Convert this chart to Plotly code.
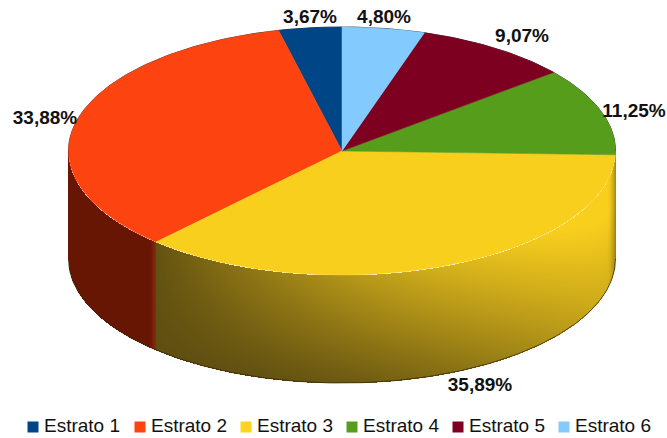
import numpy as np
import plotly.graph_objects as go

categories = ['Estrato 1', 'Estrato 2', 'Estrato 3', 'Estrato 4', 'Estrato 5', 'Estrato 6']
shares = [3.67, 33.88, 35.89, 11.25, 9.07, 4.80]
colors = ['#004586', '#fd4310', '#f9cf1e', '#579d1c', '#7e0021', '#83caff']
legend_colors = ['#004586', '#ff420e', '#ffd320', '#579d1c', '#7e0021', '#83caff']

# pixel geometry of the tilted pie
CX, CY, RX, RY, DEPTH = 342, 151, 273.5, 124, 108
label_xy = [(310, 18), (45, 119), (480, 386), (634, 112), (522, 37), (384, 18)]
legend_x = [33, 140, 246, 352, 458, 564]
legend_y = 427


def rim(a):
    t = np.radians(a)
    return CX + RX * np.sin(t), CY - RY * np.cos(t)


# printed shares only add up to 98.56, the slices fill the whole circle anyway
# slices run clockwise from 12 o'clock, last category first
sweep = np.array(shares[::-1]) / sum(shares) * 360
ends = np.cumsum(sweep)
starts = ends - sweep
spans = {len(shares) - 1 - i: (starts[i], ends[i]) for i in range(len(shares))}
# where Estrato 3 meets Estrato 2 on the front wall
boundary_x = float(rim(spans[2][1])[0])

# side wall, one cell per pixel
px = np.arange(CX - RX, CX + RX + 1)
py = np.arange(CY, CY + RY + DEPTH + 2)
gx, gy = np.meshgrid(px, py)
lower = CY + RY * np.sqrt(np.clip(1 - ((gx - CX) / RX) ** 2, 0, 1))
inside = (gy >= lower) & (gy <= lower + DEPTH)
d = np.clip((gy - lower) / DEPTH, 0, 1)
u = np.clip((gx - boundary_x) / (CX + RX - boundary_x), 0, 1)

s_top = 0.07 + 1.05 * u ** 0.85
s_bot = 0.05 + 0.75 * u ** 2.6
shade3 = (1 - d) * s_top + d * s_bot
shade3 = np.clip(shade3, 0, 1) * (1 - 0.5 * np.clip((gx - (CX + RX - 9)) / 9, 0, 1) ** 2)
shade3[~(inside & (gx >= boundary_x))] = np.nan

shade2 = np.clip((gx - (boundary_x - 6)) / 6, 0, 1)
shade2[~(inside & (gx < boundary_x))] = np.nan

fig = go.Figure()
fig.add_trace(go.Heatmap(x=px, y=py, z=shade3, zmin=0, zmax=1, showscale=False, hoverinfo='skip',
                         colorscale=[[0, '#574810'], [1, '#f9cf1e']]))
fig.add_trace(go.Heatmap(x=px, y=py, z=shade2, zmin=0, zmax=1, showscale=False, hoverinfo='skip',
                         colorscale=[[0, '#681604'], [1, '#8b2c12']]))

# rim outline, thin and dark like the original's rough edge
a = np.arange(-90, 91)
xb, yb = rim(a)
fig.add_trace(go.Scatter(x=xb, y=yb, mode='lines', line=dict(color='#333333', width=1),
                         hoverinfo='skip', showlegend=False))
a = np.arange(90, 271)
xb = CX + RX * np.sin(np.radians(a))
yb = CY - RY * np.cos(np.radians(a)) + DEPTH
fig.add_trace(go.Scatter(x=xb, y=yb, mode='lines', line=dict(color='#3a2a08', width=0.8),
                         hoverinfo='skip', showlegend=False))

# top faces
for i, name in enumerate(categories):
    a0, a1 = spans[i]
    xs, ys = rim(np.linspace(a0, a1, max(int(a1 - a0) * 2, 8)))
    fig.add_trace(go.Scatter(x=np.r_[CX, xs, CX], y=np.r_[CY, ys, CY], mode='lines', fill='toself',
                             fillcolor=colors[i], line=dict(color=colors[i], width=0.5),
                             name=name, showlegend=False))

# percentage labels
fig.add_trace(go.Scatter(x=[p[0] for p in label_xy], y=[p[1] for p in label_xy], mode='text',
                         text=[f'{v:.2f}%'.replace('.', ',') for v in shares],
                         textposition='middle center', hoverinfo='skip', showlegend=False,
                         textfont=dict(family='Liberation Sans', size=19, color='#111111', weight='bold')))

# legend row
fig.add_trace(go.Scatter(x=legend_x, y=[legend_y] * 6, mode='markers', hoverinfo='skip', showlegend=False,
                         marker=dict(symbol='square', size=11, color=legend_colors)))
fig.add_trace(go.Scatter(x=[v + 11 for v in legend_x], y=[legend_y] * 6, mode='text', text=categories,
                         textposition='middle right', hoverinfo='skip', showlegend=False,
                         textfont=dict(family='Liberation Sans', size=19, color='#111111')))

fig.update_layout(width=667, height=438, margin=dict(l=0, r=0, t=0, b=0), autosize=False,
                  paper_bgcolor='white', plot_bgcolor='white', showlegend=False,
                  xaxis=dict(range=[0, 667], visible=False, fixedrange=True),
                  yaxis=dict(range=[438, 0], visible=False, fixedrange=True))

fig.write_html("out.html", config={'displayModeBar': False},
               post_script="document.body.style.margin='0';document.body.style.overflow='hidden';")
